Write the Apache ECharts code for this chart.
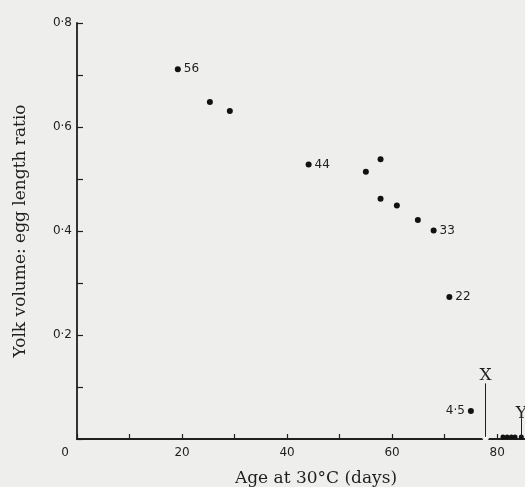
<!DOCTYPE html>
<html>
<head>
<meta charset="utf-8">
<script src="https://cdn.jsdelivr.net/npm/echarts@6/dist/echarts.min.js"></script>
<style>
html,body{margin:0;padding:0;background:#eeeeec;}
#chart{width:525px;height:487px;}
</style>
</head>
<body>
<div id="chart"></div>
<script>
// Age at 30°C (days) and yolk volume : egg length ratio
var ages   = [19.2, 25.3, 29.1, 44.1, 55.0, 57.8, 57.8, 60.9, 64.9, 67.9, 70.9, 75.0];
var ratios = [0.711, 0.648, 0.631, 0.528, 0.514, 0.538, 0.462, 0.449, 0.421, 0.401, 0.273, 0.054];
var pointLabels = ['56', '', '', '44', '', '', '', '', '', '33', '22', '4·5'];
// points lying on the axis (hatched eggs)
var axisAges   = [81.1, 81.9, 82.7, 83.4, 84.6];
var axisRatios = [0.004, 0.004, 0.004, 0.004, 0.004];
var openAges   = [77.8];
var openRatios = [0.004];
// marked events X and Y
var markNames  = ['X', 'Y'];
var markAges   = [77.8, 84.6];
var markTops   = [0.107, 0.04];
// tick labels
var xTickValues = [0, 20, 40, 60, 80];
var xTickLabels = ['0', '20', '40', '60', '80'];
var yTickValues = [0.2, 0.4, 0.6, 0.8];
var yTickLabels = ['0·2', '0·4', '0·6', '0·8'];

var ink = '#1f1f1f';
var tickFont = 'DejaVu Sans';
var serif = 'DejaVu Serif';

function findLabel(vals, labs, v) {
  for (var i = 0; i < vals.length; i++) {
    if (Math.abs(vals[i] - v) < 1e-6) return labs[i];
  }
  return '';
}

var mainData = ages.map(function (a, i) {
  var item = { value: [a, ratios[i]] };
  if (pointLabels[i]) {
    item.label = {
      show: true,
      formatter: pointLabels[i],
      position: pointLabels[i] === '4·5' ? 'left' : 'right',
      distance: 3,
      color: ink,
      fontFamily: tickFont,
      fontSize: 12
    };
  }
  return item;
});

var markData = markNames.map(function (n, i) {
  return [
    { coord: [markAges[i], 0.004], symbol: 'none' },
    { coord: [markAges[i], markTops[i]], symbol: 'none',
      label: { show: true, position: 'end', formatter: n, distance: n === 'X' ? -1 : -4,
               color: ink, fontFamily: serif, fontSize: 17 } }
  ];
});

var chart = echarts.init(document.getElementById('chart'), null, { renderer: 'canvas' });
chart.setOption({
  backgroundColor: '#eeeeec',
  animation: false,
  grid: { left: 77, right: 0, top: 23, bottom: 48, containLabel: false, outerBoundsMode: 'none' },
  xAxis: {
    type: 'value',
    min: 0, max: 85.3, interval: 10,
    name: 'Age at 30°C (days)',
    nameLocation: 'middle',
    nameGap: 31,
    nameTextStyle: { fontFamily: serif, fontSize: 17, color: ink, padding: [0, 0, 0, 30] },
    axisLine: { show: true, onZero: false, lineStyle: { color: ink, width: 1.8 } },
    axisTick: { show: true, inside: true, length: 5, lineStyle: { color: ink, width: 1.2 } },
    splitLine: { show: false },
    axisLabel: {
      showMaxLabel: false,
      margin: 8,
      color: ink, fontFamily: tickFont, fontSize: 12,
      formatter: function (v) {
        var s = findLabel(xTickValues, xTickLabels, v);
        if (v === 0 && s) return '{z|' + s + '}';
        return s;
      },
      rich: { z: { padding: [0, 24, 0, 0], fontFamily: tickFont, fontSize: 12, color: ink } }
    }
  },
  yAxis: {
    type: 'value',
    min: 0, max: 0.8, interval: 0.1,
    name: 'Yolk volume: egg length ratio',
    nameLocation: 'middle',
    nameGap: 48,
    nameTextStyle: { fontFamily: serif, fontSize: 17, color: ink },
    axisLine: { show: true, lineStyle: { color: ink, width: 1.8 } },
    axisTick: { show: true, inside: true, length: 6, lineStyle: { color: ink, width: 1.2 } },
    splitLine: { show: false },
    axisLabel: {
      margin: 5,
      color: ink, fontFamily: tickFont, fontSize: 12,
      formatter: function (v) { return findLabel(yTickValues, yTickLabels, v); }
    }
  },
  series: [
    {
      type: 'scatter',
      symbol: 'circle',
      symbolSize: 6,
      itemStyle: { color: '#111', opacity: 1 },
      data: mainData,
      markLine: {
        silent: true,
        symbol: 'none',
        lineStyle: { color: ink, width: 1, type: 'solid' },
        data: markData
      }
    },
    {
      type: 'scatter',
      symbol: 'circle',
      symbolSize: 5,
      itemStyle: { color: '#111', opacity: 1 },
      data: axisAges.map(function (a, i) { return [a, axisRatios[i]]; })
    },
    {
      type: 'scatter',
      symbol: 'emptyCircle',
      symbolSize: 5,
      itemStyle: { color: '#eeeeec', borderColor: ink, borderWidth: 1, opacity: 1 },
      data: openAges.map(function (a, i) { return [a, openRatios[i]]; })
    }
  ]
});
</script>
</body>
</html>
